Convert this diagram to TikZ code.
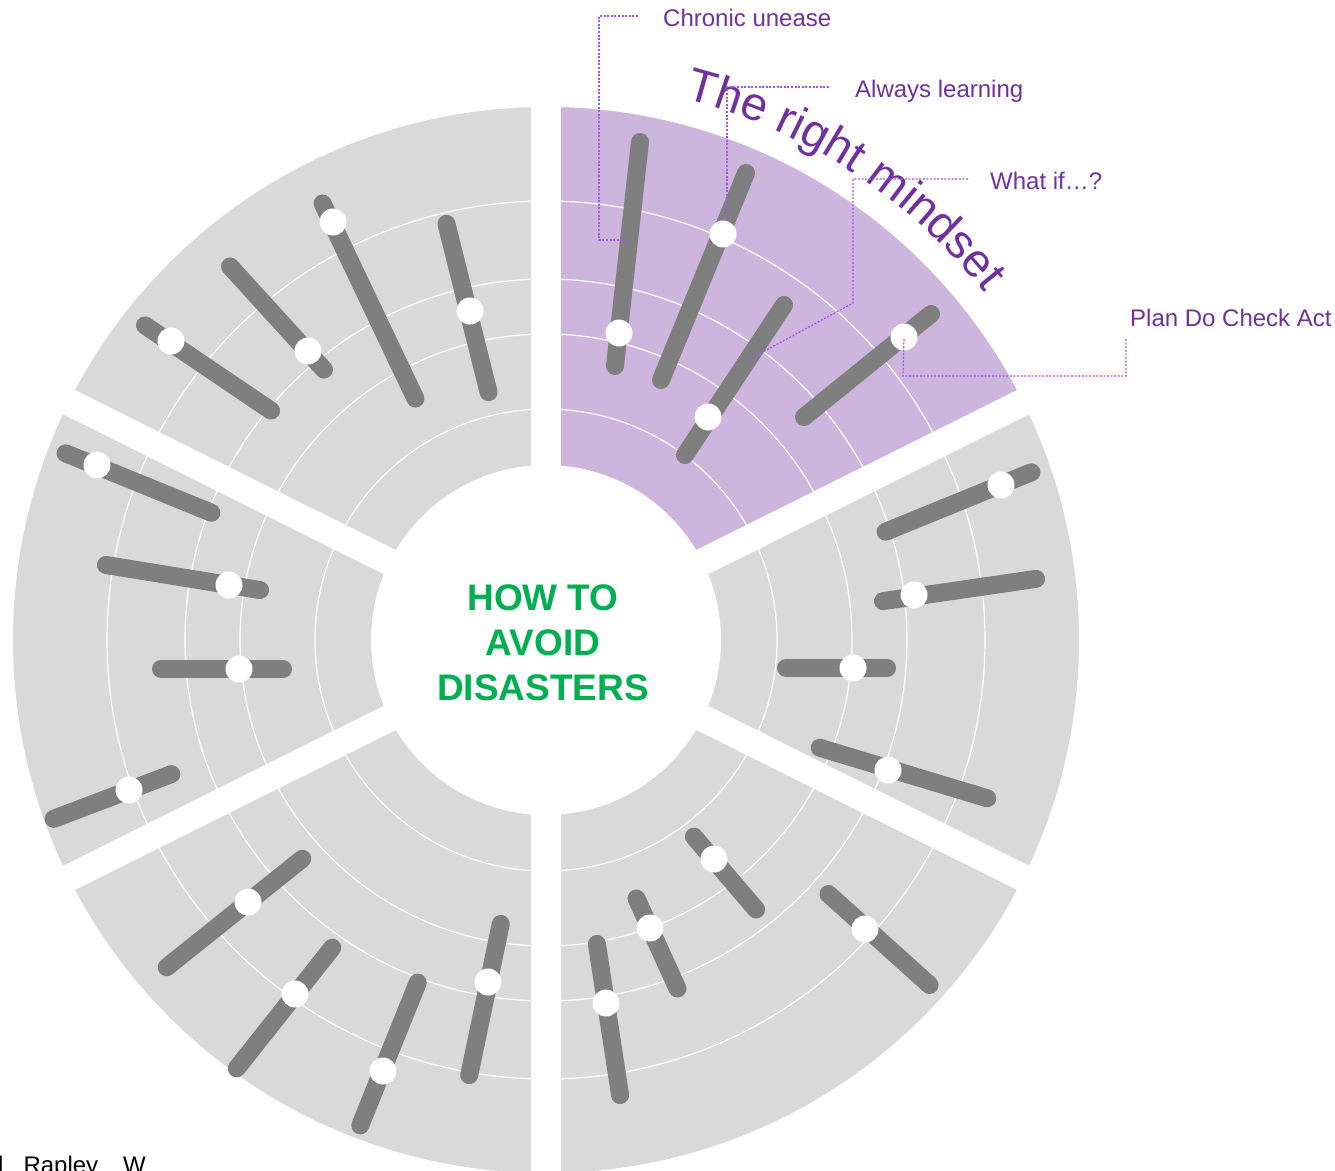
\documentclass[tikz,border=0pt]{standalone}
\usepackage{fontspec}
\setmainfont{Liberation Sans}
\usetikzlibrary{decorations.text}
\definecolor{sectorgray}{HTML}{D9D9D9}
\definecolor{sectorpurple}{HTML}{CDB5DD}
\definecolor{barcolor}{HTML}{7F7F7F}
\definecolor{mindpurple}{HTML}{7030A0}
\definecolor{leadercol}{HTML}{A452F5}
\definecolor{headgreen}{HTML}{00B050}

\begin{document}
\begin{tikzpicture}[x=1pt,y=-1pt,
  barline/.style={line width=18pt, line cap=round, draw=barcolor},
  marker/.style={circle, fill=white, minimum size=27pt, inner sep=0pt},
  ring/.style={draw=white, line width=1.2pt},
  gapline/.style={draw=white, line width=#1},
  leader/.style={draw=leadercol, line width=1.2pt, dash pattern=on 2pt off 1.6pt},
  lbl/.style={text=mindpurple, font=\fontsize{24}{28}\selectfont, anchor=base west, inner sep=0pt},
  headline/.style={text=headgreen, font=\bfseries\fontsize{37}{45}\selectfont, anchor=base, inner sep=0pt}
]
\useasboundingbox (0,0) rectangle (1335,1170);
\coordinate (C) at (546,640);

% six ring sectors
\fill[sectorgray] (C) circle[radius=533];
\fill[sectorpurple] (C) -- +(-90:533) arc[start angle=-90,end angle=-26.5,radius=533] -- cycle;
\foreach \r in {231,306,361,439} \draw[ring] (C) circle[radius=\r];
\foreach \a in {-90,90} \draw[gapline=30pt] (C) -- +(\a:600);
\foreach \a in {-26.5,26.5,153.5,206.5} \draw[gapline=27pt] (C) -- +(\a:600);
\fill[white] (C) circle[radius=175];

% sliders of the highlighted sector
\foreach \xa/\ya/\xb/\yb in {640/142/615/366, 746/173/661/380, 784/305/685/455, 931/314/804/417}
  \draw[barline] (\xa,\ya) -- (\xb,\yb);
% sliders of the other sectors
\foreach \xa/\ya/\xb/\yb in {445/218/490/398, 320/198/418/404, 226/262/328/374, 140/322/276/414,
  60/451/217/515, 100/564/266/591, 155/669/289/669, 48/821/177/772,
  307/855/162/971, 336/943/233/1073, 420/977/358/1131, 502/918/468/1081,
  596/938/621/1101, 634/893/680/994, 690/832/760/914, 824/890/934/989,
  880/534/1037/470, 877/602/1042/578, 780/668/893/668, 814/746/993/800}
  \draw[barline, shorten <=6pt, shorten >=6pt] (\xa,\ya) -- (\xb,\yb);

% slider knobs
\foreach \x/\y/\n in {619/333/1, 723/234/2, 708/417/3, 904/337/4,
  470/311/5, 333/222/6, 308/351/7, 171/341/8,
  97/465/9, 229/585/10, 239/669/11, 129/790/12,
  248/902/13, 295/994/14, 383/1071/15, 488/982/16,
  606/1003/17, 650/928/18, 714/859/19, 865/929/20,
  1001/485/21, 914/595/22, 853/668/23, 888/770/24}
  \node[marker] (knob\n) at (\x,\y) {};

% curved sector title
\path[decorate, decoration={text along path, text align=center, text color=mindpurple,
  text={|\fontsize{47}{47}\selectfont|The right mindset}}]
  ([shift={(-77:559)}]C) arc[start angle=-77, end angle=-37, radius=559];

% centre heading
\node[headline] (head1) at (543,610) {HOW TO};
\node[headline] (head2) at (543,655) {AVOID};
\node[headline] (head3) at (543,700) {DISASTERS};

% callout labels
\node[lbl] (chronic) at (663,26) {Chronic unease};
\node[lbl] (always) at (855,97) {Always learning};
\node[lbl] (whatif) at (990,189) {What if…?};
\node[lbl] (pdca) at (1130,326) {Plan Do Check Act};

% leader lines
\coordinate (cuA) at (638,16);
\coordinate (cuB) at (599,16);
\coordinate (cuC) at (599,240);
\coordinate (cuD) at (629,240);
\draw[leader] (cuA) -- (cuB) -- (cuC) -- (cuD);
\coordinate (alA) at (829,87);
\coordinate (alB) at (727,87);
\coordinate (alC) at (727,221);
\draw[leader] (alA) -- (alB) -- (alC);
\coordinate (wiA) at (968,179);
\coordinate (wiB) at (853,179);
\coordinate (wiC) at (853,303);
\coordinate (wiD) at (748,360);
\draw[leader] (wiA) -- (wiB) -- (wiC) -- (wiD);
\coordinate (pdA) at (1126,339);
\coordinate (pdB) at (1126,376);
\coordinate (pdC) at (903,376);
\draw[leader] (pdA) -- (pdB) -- (pdC) -- (knob4.center);

% credit line
\node[anchor=base west, inner sep=0pt, font=\fontsize{24}{28}\selectfont] (credit) at (-2,1173) {l\hspace{20pt}Rapley\hspace{25pt}W};
\end{tikzpicture}
\end{document}
